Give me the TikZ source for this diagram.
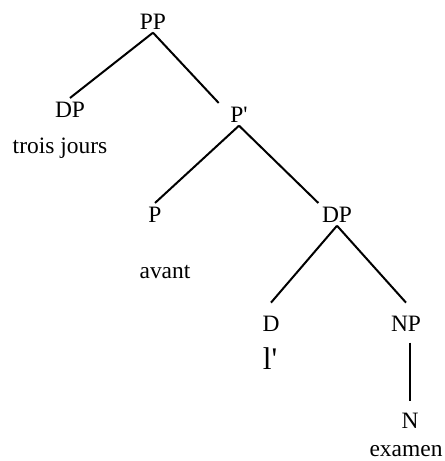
\documentclass[tikz,border=0pt]{standalone}
\usepackage{fontspec}
\setmainfont{Liberation Serif}
\usepackage{tikz}

\tikzset{cat/.style={anchor=base,inner sep=2pt,font=\fontsize{17.6}{20}\selectfont},
  word/.style={cat},
  bigword/.style={anchor=base,inner sep=2pt,font=\fontsize{23.6}{26}\selectfont}}

\begin{document}
\begin{tikzpicture}[x=0.75pt,y=-0.75pt,line width=1.5pt]
\useasboundingbox (0,0) rectangle (445,461);

% categories
 \node [cat] (pp) at (153,29) {PP};
 \node [cat] (dpone) at (70,117) {DP};
 \node [cat] (pbar) at (239,122) {P\textquotesingle};
 \node [cat] (p) at (155,222) {P};
 \node [cat] (dptwo) at (337,222) {DP};
 \node [cat] (d) at (271,331) {D};
 \node [cat] (np) at (406,331) {NP};
 \node [cat] (n) at (410,428) {N};

% words under the leaves
 \node [word] (trois) at (60,153) {trois jours};
 \node [word] (avant) at (165,278) {avant};
 \node [bigword] (le) at (270,369) {l\textquotesingle};
 \node [word] (examen) at (406,456) {examen};

% branches
\draw (pp.south)--(dpone.north);
\draw (pp.south)--([xshift=-6pt]pbar.north west);
\draw (pbar.south)--(p.north);
\draw (pbar.south)--(dptwo.north west);
\draw (dptwo.south)--([yshift=7pt]d.north);
\draw (dptwo.south)--([yshift=7pt]np.north);
\draw ([yshift=-6pt]np.south -| n.north)--([yshift=6pt]n.north);

\end{tikzpicture}
\end{document}
